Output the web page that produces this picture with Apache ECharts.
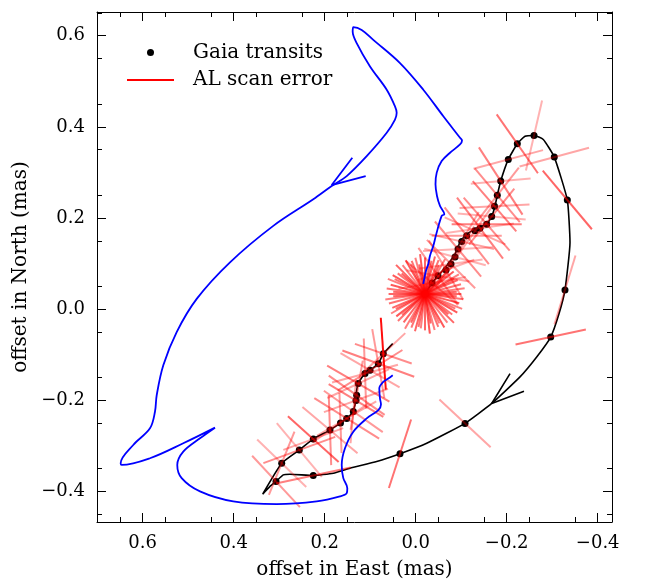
<!DOCTYPE html>
<html>
<head>
<meta charset="utf-8">
<script src="https://cdn.jsdelivr.net/npm/echarts@6/dist/echarts.min.js"></script>
<style>html,body{margin:0;padding:0;background:#fff;}#c{width:646px;height:585px;}</style>
</head>
<body>
<div id="c"></div>
<script>
// ---- axis ticks ----
const majorX = [-0.4, -0.2, 0.0, 0.2, 0.4, 0.6];
const minorX = [-0.35, -0.25, -0.15, -0.05, 0.05, 0.15, 0.25, 0.35, 0.45, 0.55, 0.65];
const majorY = [-0.4, -0.2, 0.0, 0.2, 0.4, 0.6];
const minorY = [-0.45, -0.35, -0.25, -0.15, -0.05, 0.05, 0.15, 0.25, 0.35, 0.45, 0.55, 0.65];

// ---- blue path (East, North in mas) ----
const blueEast = [-0.0167,-0.0226,-0.0277,-0.0314,-0.0387,-0.0446,-0.0571,-0.0629,-0.0534,-0.0468,-0.0435,-0.0462,-0.0571,-0.0754,-0.0974,-0.1018,-0.0974,-0.0607,-0.0167,0.0345,0.0932,0.1187,0.1371,0.1385,0.1297,0.1004,0.0637,0.0455,0.0418,0.0455,0.0637,0.1077,0.1516,0.1846,0.2251,0.3130,0.4081,0.4813,0.5253,0.5547,0.5692,0.5730,0.5840,0.6207,0.6484,0.6462,0.5840,0.5108,0.4411,0.4741,0.5108,0.5240,0.5143,0.4741,0.4009,0.3055,0.2176,0.1664,0.1516,0.1503,0.1591,0.1626,0.1554,0.1371,0.1077,0.0822,0.0763,0.0785,0.0800,0.0712,0.0602,0.0505];
const blueNorth = [0.0553,0.0844,0.0990,0.1172,0.1390,0.1624,0.2046,0.2083,0.2264,0.2483,0.2739,0.2995,0.3248,0.3432,0.3613,0.3701,0.3760,0.4232,0.4815,0.5399,0.5908,0.6127,0.6186,0.6090,0.5836,0.5325,0.4815,0.4450,0.4307,0.4160,0.3869,0.3357,0.2920,0.2702,0.2411,0.1827,0.1027,0.0225,-0.0503,-0.1233,-0.1889,-0.2251,-0.2616,-0.2981,-0.3381,-0.3419,-0.3272,-0.2944,-0.2601,-0.2835,-0.3126,-0.3419,-0.3709,-0.4000,-0.4219,-0.4278,-0.4219,-0.4109,-0.4037,-0.3928,-0.3709,-0.3419,-0.3054,-0.2689,-0.2398,-0.2216,-0.2092,-0.1961,-0.1742,-0.1596,-0.1523,-0.1451];
const blueArrowEast = [0.1393, 0.1846, 0.1099];
const blueArrowNorth = [0.3322, 0.2723, 0.2920];

// ---- black orbit ----
const orbitEast = [0.0505,0.0675,0.0747,0.0822,0.1004,0.1114,0.1224,0.1284,0.1312,0.1334,0.1407,0.1516,0.1664,0.1884,0.2251,0.2558,0.2945,0.3363,0.3202,0.3070,0.2910,0.2763,0.2251,0.1811,0.1444,0.0857,0.0345,-0.0242,-0.1084,-0.1670,-0.2292,-0.2659,-0.2967,-0.3149,-0.3281,-0.3391,-0.3332,-0.3046,-0.2804,-0.2600,-0.2402,-0.2233,-0.2035,-0.1868,-0.1793,-0.1743,-0.1670,-0.1560,-0.1376,-0.1231,-0.1084,-0.0974,-0.0864,-0.0681,-0.0497,-0.0360,-0.0204];
const orbitNorth = [-0.0758,-0.0940,-0.1049,-0.1196,-0.1342,-0.1414,-0.1561,-0.1705,-0.1889,-0.2107,-0.2289,-0.2398,-0.2507,-0.2654,-0.2846,-0.3091,-0.3381,-0.4059,-0.3891,-0.3781,-0.3637,-0.3622,-0.3650,-0.3600,-0.3491,-0.3344,-0.3174,-0.2944,-0.2507,-0.2070,-0.1486,-0.1049,-0.0612,-0.0103,0.0422,0.1464,0.2396,0.3336,0.3722,0.3810,0.3795,0.3628,0.3285,0.2811,0.2498,0.2264,0.2033,0.1864,0.1792,0.1718,0.1609,0.1464,0.1209,0.0953,0.0734,0.0575,0.0334];
const orbitArrowEast = [-0.2073, -0.1670, -0.2380];
const orbitArrowNorth = [-0.1414, -0.2070, -0.1801];

// ---- Gaia transits ----
const transitEast = [0.0712,0.0822,0.1004,0.1114,0.1262,0.1297,0.1312,0.1371,0.1516,0.1653,0.1884,0.2251,0.2558,0.2945,0.3070,0.2251,0.0345,-0.1084,-0.2967,-0.3281,-0.3332,-0.3046,-0.2600,-0.2233,-0.2035,-0.1868,-0.1793,-0.1732,-0.1670,-0.1560,-0.1413,-0.1303,-0.1121,-0.1011,-0.0930,-0.0864,-0.0776,-0.0666,-0.0490,-0.0360,-0.0204];
const transitNorth = [-0.0977,-0.1196,-0.1342,-0.1414,-0.1633,-0.1889,-0.2004,-0.2245,-0.2398,-0.2496,-0.2654,-0.2850,-0.3091,-0.3381,-0.3781,-0.3650,-0.3174,-0.2507,-0.0612,0.0422,0.2396,0.3336,0.3810,0.3628,0.3285,0.2811,0.2498,0.2258,0.2033,0.1864,0.1777,0.1718,0.1609,0.1482,0.1318,0.1143,0.0990,0.0859,0.0730,0.0575,0.0334];

// ---- AL scan error segments: transit index, scan angle (deg), half-length (mas), weight ----
const scanTransit = [18,19,20,21,22,23,24,25,25,26,26,27,27,28,28,29,29,30,30,31,31,32,32,33,33,34,34,35,35,36,36,37,37,
  0,0,0,1,1,2,2,3,3,4,4,5,5,6,6,7,7,8,8,9,9,10,10,11,11,12,12,13,13,14,15,16,17,
  40,40,40,40,40,40,40,40,40,40,40,40,40,40,40,40,40,40,40,40,40,40,40,40,
  40,40,40,40,40,40,40,40,40,40,39,39,38,38];
const scanAngle = [168,107,50,165,103,55,165,57,175,50,128,177,49,129,5,0,49,53,172,24,125,0,52,13,120,50,177,15,122,45,172,60,160,
  86,19,137,80,20,148,30,88,165,30,155,35,100,31,160,35,95,32,150,88,145,88,40,42,160,160,50,112,44,47,168,108,43,
  0,8,15,22,30,37,45,52,60,68,75,83,90,97,105,112,120,127,135,142,150,157,165,172,
  4,26,41,64,79,101,116,138,153,176,40,170,55,10];
const scanHalf = [0.079,0.079,0.084,0.079,0.079,0.079,0.079,0.088,0.066,0.077,0.077,0.077,0.073,0.079,0.075,0.077,0.077,0.084,0.075,0.073,0.077,0.077,0.079,0.073,0.075,0.079,0.077,0.070,0.079,0.075,0.070,0.075,0.066,
  0.079,0.066,0.066,0.077,0.084,0.084,0.075,0.077,0.075,0.079,0.075,0.075,0.077,0.070,0.075,0.079,0.070,0.084,0.075,0.066,0.075,0.077,0.079,0.075,0.070,0.084,0.077,0.075,0.075,0.077,0.084,0.079,0.077,
  0.080,0.085,0.078,0.088,0.082,0.075,0.090,0.080,0.085,0.078,0.082,0.088,0.080,0.076,0.085,0.080,0.088,0.078,0.084,0.080,0.086,0.078,0.082,0.088,
  0.070,0.074,0.068,0.072,0.066,0.074,0.070,0.068,0.072,0.070,0.075,0.075,0.075,0.070];
const scanWeight = [0.55,0.35,0.6,0.35,0.3,0.55,0.35,0.5,0.3,0.45,0.4,0.35,0.5,0.45,0.3,0.5,0.45,0.5,0.3,0.35,0.35,0.4,0.45,0.35,0.35,0.45,0.3,0.3,0.4,0.4,0.3,0.4,0.3,
  0.95,0.45,0.35,0.4,0.5,0.45,0.35,0.4,0.35,0.5,0.35,0.45,0.4,0.5,0.35,0.4,0.35,0.45,0.35,0.4,0.35,0.45,0.35,0.6,0.35,0.45,0.3,0.4,0.3,0.4,0.5,0.55,0.35,
  0.6,0.55,0.65,0.5,0.65,0.55,0.6,0.5,0.65,0.55,0.5,0.65,0.6,0.5,0.6,0.55,0.5,0.6,0.55,0.65,0.5,0.6,0.55,0.5,
  0.6,0.55,0.6,0.5,0.6,0.55,0.6,0.5,0.55,0.6,0.4,0.35,0.4,0.35];

// ---- build ----
const zip = (a, b) => a.map((v, i) => [v, b[i]]);
const FONT = 'DejaVu Serif';
const fmt = v => (v < 0 ? '\u2212' : '') + Math.abs(v).toFixed(1);
const X_MIN = -0.4314, X_MAX = 0.7004, Y_MIN = -0.4671, Y_MAX = 0.652;

function xAx(pos, ticks, len, withLabel, showLine) {
  const ax = {
    type: 'value', inverse: true, min: X_MIN, max: X_MAX, position: pos,
    axisLine: {show: showLine, onZero: false, lineStyle: {color: '#000', width: 1}},
    axisTick: {show: true, inside: true, length: len, customValues: ticks, lineStyle: {color: '#000', width: 1}},
    axisLabel: withLabel ? {show: true, customValues: ticks, formatter: fmt, fontFamily: FONT, fontSize: 18, color: '#000', margin: 12}
                         : {show: false},
    splitLine: {show: false}
  };
  if (withLabel) {
    ax.name = 'offset in East (mas)';
    ax.nameLocation = 'middle';
    ax.nameGap = 38;
    ax.nameTextStyle = {fontFamily: FONT, fontSize: 20, color: '#000'};
  }
  return ax;
}
function yAx(pos, ticks, len, withLabel, showLine) {
  const ax = {
    type: 'value', min: Y_MIN, max: Y_MAX, position: pos,
    axisLine: {show: showLine, onZero: false, lineStyle: {color: '#000', width: 1}},
    axisTick: {show: true, inside: true, length: len, customValues: ticks, lineStyle: {color: '#000', width: 1}},
    axisLabel: withLabel ? {show: true, customValues: ticks, formatter: fmt, fontFamily: FONT, fontSize: 18, color: '#000', margin: 12}
                         : {show: false},
    splitLine: {show: false}
  };
  if (withLabel) {
    ax.name = 'offset in North (mas)';
    ax.nameLocation = 'middle';
    ax.nameGap = 59;
    ax.nameRotate = 90;
    ax.nameTextStyle = {fontFamily: FONT, fontSize: 20, color: '#000'};
  }
  return ax;
}

const scanData = scanTransit.map((t, i) => [transitEast[t], transitNorth[t], scanAngle[i], scanHalf[i], scanWeight[i]]);

const chart = echarts.init(document.getElementById('c'), null, {renderer: 'canvas'});
chart.setOption({
  animation: false,
  backgroundColor: '#fff',
  grid: {left: 97, right: 34, top: 12, bottom: 61, containLabel: false},
  xAxis: [xAx('bottom', majorX, 9, true, true), xAx('bottom', minorX, 5, false, false),
          xAx('top', majorX, 9, false, true), xAx('top', minorX, 5, false, false)],
  yAxis: [yAx('left', majorY, 9, true, true), yAx('left', minorY, 5, false, false),
          yAx('right', majorY, 9, false, true), yAx('right', minorY, 5, false, false)],
  legend: [
    {data: ['Gaia transits'], left: 147, top: 42.5, padding: 0, icon: 'circle', itemWidth: 7, itemHeight: 7,
     selectedMode: false, itemStyle: {opacity: 1, color: '#000'},
     textStyle: {fontFamily: FONT, fontSize: 20, color: '#000', padding: [0, 0, 0, 34]}},
    {data: ['AL scan error'], left: 127, top: 70, padding: 0, icon: 'rect', itemWidth: 47, itemHeight: 2,
     selectedMode: false, itemStyle: {opacity: 1, color: '#ff0000'},
     textStyle: {fontFamily: FONT, fontSize: 20, color: '#000', padding: [0, 0, 0, 14]}}
  ],
  series: [
    {name: 'orbit', type: 'line', data: zip(orbitEast, orbitNorth), showSymbol: false, symbol: 'none', smooth: 0.15,
     lineStyle: {color: '#000', width: 1.6}, z: 2},
    {name: 'orbitArrow', type: 'line', data: zip(orbitArrowEast, orbitArrowNorth), showSymbol: false, symbol: 'none',
     lineStyle: {color: '#000', width: 1.6}, z: 2},
    {name: 'Gaia transits', type: 'scatter', data: zip(transitEast, transitNorth), symbol: 'circle', symbolSize: 7,
     itemStyle: {color: '#000', opacity: 1}, z: 3},
    {name: 'AL scan error', type: 'custom', data: scanData, itemStyle: {color: '#ff0000'}, z: 4,
     encode: {x: 0, y: 1},
     renderItem: function (params, api) {
       const e = api.value(0), n = api.value(1), a = api.value(2) * Math.PI / 180, h = api.value(3), w = api.value(4);
       const p1 = api.coord([e - h * Math.cos(a), n - h * Math.sin(a)]);
       const p2 = api.coord([e + h * Math.cos(a), n + h * Math.sin(a)]);
       return {type: 'line', shape: {x1: p1[0], y1: p1[1], x2: p2[0], y2: p2[1]},
               style: {stroke: 'rgba(255,0,0,' + w + ')', lineWidth: 2, fill: null}};
     }},
    {name: 'blue', type: 'line', data: zip(blueEast, blueNorth), showSymbol: false, symbol: 'none', smooth: 0.35,
     lineStyle: {color: '#0000ff', width: 1.8}, z: 5},
    {name: 'blueArrow', type: 'line', data: zip(blueArrowEast, blueArrowNorth), showSymbol: false, symbol: 'none',
     lineStyle: {color: '#0000ff', width: 1.8}, z: 5}
  ]
});
</script>
</body>
</html>
